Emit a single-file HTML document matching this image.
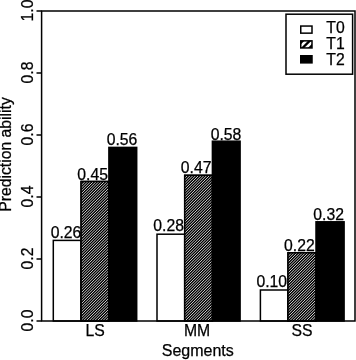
<!DOCTYPE html>
<html>
<head>
<meta charset="utf-8">
<title>Prediction ability by segment</title>
<style>
  html, body { margin: 0; padding: 0; background: #ffffff; }
  body { width: 356px; height: 360px; overflow: hidden; font-family: "Liberation Sans", sans-serif; }
  svg { display: block; will-change: transform; }
  text { font-family: "Liberation Sans", sans-serif; font-size: 15.75px; fill: #000; stroke: #000; stroke-width: 0.25px; }
</style>
</head>
<body>
<svg width="356" height="360" viewBox="0 0 356 360">
  <defs>
    <pattern id="hatch" patternUnits="userSpaceOnUse" width="2" height="2" patternTransform="rotate(-45)">
      <rect x="0" y="0" width="2" height="2" fill="#fff"/>
      <rect x="0" y="0" width="2" height="1.35" fill="#000"/>
    </pattern>
    <clipPath id="sw"><rect x="300.75" y="40.85" width="11.25" height="7.1"/></clipPath>
    <clipPath id="cb0"><rect x="81.1" y="181.5" width="27.8" height="139.5"/></clipPath>
    <clipPath id="cb1"><rect x="184.7" y="175.3" width="27.7" height="145.7"/></clipPath>
    <clipPath id="cb2"><rect x="288.0" y="252.8" width="28.0" height="68.2"/></clipPath>
  </defs>
  <rect x="0" y="0" width="356" height="360" fill="#fff"/>

  <!-- bars: LS -->
  <g stroke="#000" stroke-width="1.5">
    <rect x="53.3" y="240.4" width="27.8" height="80.6" fill="#fff"/>
    <rect x="81.1" y="181.5" width="27.8" height="139.5" fill="#000"/>
    <path clip-path="url(#cb0)" d="M80.10 181.15L109.90 151.35M80.10 183.90L109.90 154.10M80.10 186.65L109.90 156.85M80.10 189.40L109.90 159.60M80.10 192.15L109.90 162.35M80.10 194.90L109.90 165.10M80.10 197.65L109.90 167.85M80.10 200.40L109.90 170.60M80.10 203.15L109.90 173.35M80.10 205.90L109.90 176.10M80.10 208.65L109.90 178.85M80.10 211.40L109.90 181.60M80.10 214.15L109.90 184.35M80.10 216.90L109.90 187.10M80.10 219.65L109.90 189.85M80.10 222.40L109.90 192.60M80.10 225.15L109.90 195.35M80.10 227.90L109.90 198.10M80.10 230.65L109.90 200.85M80.10 233.40L109.90 203.60M80.10 236.15L109.90 206.35M80.10 238.90L109.90 209.10M80.10 241.65L109.90 211.85M80.10 244.40L109.90 214.60M80.10 247.15L109.90 217.35M80.10 249.90L109.90 220.10M80.10 252.65L109.90 222.85M80.10 255.40L109.90 225.60M80.10 258.15L109.90 228.35M80.10 260.90L109.90 231.10M80.10 263.65L109.90 233.85M80.10 266.40L109.90 236.60M80.10 269.15L109.90 239.35M80.10 271.90L109.90 242.10M80.10 274.65L109.90 244.85M80.10 277.40L109.90 247.60M80.10 280.15L109.90 250.35M80.10 282.90L109.90 253.10M80.10 285.65L109.90 255.85M80.10 288.40L109.90 258.60M80.10 291.15L109.90 261.35M80.10 293.90L109.90 264.10M80.10 296.65L109.90 266.85M80.10 299.40L109.90 269.60M80.10 302.15L109.90 272.35M80.10 304.90L109.90 275.10M80.10 307.65L109.90 277.85M80.10 310.40L109.90 280.60M80.10 313.15L109.90 283.35M80.10 315.90L109.90 286.10M80.10 318.65L109.90 288.85M80.10 321.40L109.90 291.60M80.10 324.15L109.90 294.35M80.10 326.90L109.90 297.10M80.10 329.65L109.90 299.85M80.10 332.40L109.90 302.60M80.10 335.15L109.90 305.35M80.10 337.90L109.90 308.10M80.10 340.65L109.90 310.85M80.10 343.40L109.90 313.60M80.10 346.15L109.90 316.35M80.10 348.90L109.90 319.10M80.10 351.65L109.90 321.85" fill="none" stroke="#fff" stroke-width="0.8"/>
    <rect x="81.1" y="181.5" width="27.8" height="139.5" fill="none"/>
    <rect x="108.9" y="147.4" width="27.8" height="173.6" fill="#000"/>
    <!-- MM -->
    <rect x="157" y="234.2" width="27.7" height="86.8" fill="#fff"/>
    <rect x="184.7" y="175.3" width="27.7" height="145.7" fill="#000"/>
    <path clip-path="url(#cb1)" d="M183.70 173.80L213.40 144.10M183.70 176.55L213.40 146.85M183.70 179.30L213.40 149.60M183.70 182.05L213.40 152.35M183.70 184.80L213.40 155.10M183.70 187.55L213.40 157.85M183.70 190.30L213.40 160.60M183.70 193.05L213.40 163.35M183.70 195.80L213.40 166.10M183.70 198.55L213.40 168.85M183.70 201.30L213.40 171.60M183.70 204.05L213.40 174.35M183.70 206.80L213.40 177.10M183.70 209.55L213.40 179.85M183.70 212.30L213.40 182.60M183.70 215.05L213.40 185.35M183.70 217.80L213.40 188.10M183.70 220.55L213.40 190.85M183.70 223.30L213.40 193.60M183.70 226.05L213.40 196.35M183.70 228.80L213.40 199.10M183.70 231.55L213.40 201.85M183.70 234.30L213.40 204.60M183.70 237.05L213.40 207.35M183.70 239.80L213.40 210.10M183.70 242.55L213.40 212.85M183.70 245.30L213.40 215.60M183.70 248.05L213.40 218.35M183.70 250.80L213.40 221.10M183.70 253.55L213.40 223.85M183.70 256.30L213.40 226.60M183.70 259.05L213.40 229.35M183.70 261.80L213.40 232.10M183.70 264.55L213.40 234.85M183.70 267.30L213.40 237.60M183.70 270.05L213.40 240.35M183.70 272.80L213.40 243.10M183.70 275.55L213.40 245.85M183.70 278.30L213.40 248.60M183.70 281.05L213.40 251.35M183.70 283.80L213.40 254.10M183.70 286.55L213.40 256.85M183.70 289.30L213.40 259.60M183.70 292.05L213.40 262.35M183.70 294.80L213.40 265.10M183.70 297.55L213.40 267.85M183.70 300.30L213.40 270.60M183.70 303.05L213.40 273.35M183.70 305.80L213.40 276.10M183.70 308.55L213.40 278.85M183.70 311.30L213.40 281.60M183.70 314.05L213.40 284.35M183.70 316.80L213.40 287.10M183.70 319.55L213.40 289.85M183.70 322.30L213.40 292.60M183.70 325.05L213.40 295.35M183.70 327.80L213.40 298.10M183.70 330.55L213.40 300.85M183.70 333.30L213.40 303.60M183.70 336.05L213.40 306.35M183.70 338.80L213.40 309.10M183.70 341.55L213.40 311.85M183.70 344.30L213.40 314.60M183.70 347.05L213.40 317.35M183.70 349.80L213.40 320.10" fill="none" stroke="#fff" stroke-width="0.8"/>
    <rect x="184.7" y="175.3" width="27.7" height="145.7" fill="none"/>
    <rect x="212.4" y="141.2" width="27.7" height="179.8" fill="#000"/>
    <!-- SS -->
    <rect x="260.4" y="290" width="27.6" height="31" fill="#fff"/>
    <rect x="288" y="252.8" width="28" height="68.2" fill="#000"/>
    <path clip-path="url(#cb2)" d="M287.00 252.00L317.00 222.00M287.00 254.75L317.00 224.75M287.00 257.50L317.00 227.50M287.00 260.25L317.00 230.25M287.00 263.00L317.00 233.00M287.00 265.75L317.00 235.75M287.00 268.50L317.00 238.50M287.00 271.25L317.00 241.25M287.00 274.00L317.00 244.00M287.00 276.75L317.00 246.75M287.00 279.50L317.00 249.50M287.00 282.25L317.00 252.25M287.00 285.00L317.00 255.00M287.00 287.75L317.00 257.75M287.00 290.50L317.00 260.50M287.00 293.25L317.00 263.25M287.00 296.00L317.00 266.00M287.00 298.75L317.00 268.75M287.00 301.50L317.00 271.50M287.00 304.25L317.00 274.25M287.00 307.00L317.00 277.00M287.00 309.75L317.00 279.75M287.00 312.50L317.00 282.50M287.00 315.25L317.00 285.25M287.00 318.00L317.00 288.00M287.00 320.75L317.00 290.75M287.00 323.50L317.00 293.50M287.00 326.25L317.00 296.25M287.00 329.00L317.00 299.00M287.00 331.75L317.00 301.75M287.00 334.50L317.00 304.50M287.00 337.25L317.00 307.25M287.00 340.00L317.00 310.00M287.00 342.75L317.00 312.75M287.00 345.50L317.00 315.50M287.00 348.25L317.00 318.25M287.00 351.00L317.00 321.00" fill="none" stroke="#fff" stroke-width="0.8"/>
    <rect x="288" y="252.8" width="28" height="68.2" fill="none"/>
    <rect x="316" y="221.8" width="28.1" height="99.2" fill="#000"/>
  </g>

  <!-- frame -->
  <rect x="41.6" y="11" width="313.4" height="310" fill="none" stroke="#000" stroke-width="1.5"/>

  <!-- y ticks -->
  <g stroke="#000" stroke-width="1.5">
    <line x1="36.5" y1="11" x2="41.6" y2="11"/>
    <line x1="36.5" y1="73" x2="41.6" y2="73"/>
    <line x1="36.5" y1="135" x2="41.6" y2="135"/>
    <line x1="36.5" y1="197" x2="41.6" y2="197"/>
    <line x1="36.5" y1="259" x2="41.6" y2="259"/>
    <line x1="36.5" y1="321" x2="41.6" y2="321"/>
  </g>

  <!-- y tick labels -->
  <g text-anchor="middle">
    <text transform="translate(32.5 10.5) rotate(-90)">1.0</text>
    <text transform="translate(32.5 72.5) rotate(-90)">0.8</text>
    <text transform="translate(32.5 134.5) rotate(-90)">0.6</text>
    <text transform="translate(32.5 196.5) rotate(-90)">0.4</text>
    <text transform="translate(32.5 258.5) rotate(-90)">0.2</text>
    <text transform="translate(32.5 320.5) rotate(-90)">0.0</text>
    <text transform="translate(11.3 154.5) rotate(-90)">Prediction ability</text>
  </g>

  <!-- x labels -->
  <g text-anchor="middle">
    <text x="95.1" y="336">LS</text>
    <text x="197.1" y="336">MM</text>
    <text x="302" y="336">SS</text>
    <text x="197.8" y="355.5" style="font-size:16px">Segments</text>
  </g>

  <!-- value labels -->
  <g text-anchor="middle">
    <text x="66" y="238">0.26</text>
    <text x="92.6" y="179.6">0.45</text>
    <text x="122" y="145">0.56</text>
    <text x="168.6" y="231.2">0.28</text>
    <text x="196.2" y="173.4">0.47</text>
    <text x="226" y="139.5">0.58</text>
    <text x="271.8" y="287.2">0.10</text>
    <text x="299.4" y="250.5">0.22</text>
    <text x="328.7" y="220">0.32</text>
  </g>

  <!-- legend -->
  <rect x="286" y="14.2" width="66.6" height="60" fill="#fff" stroke="#000" stroke-width="1.5"/>
  <g stroke="#000" stroke-width="1.5">
    <rect x="300.75" y="26.05" width="11.25" height="7.1" fill="#fff"/>
    <rect x="300.75" y="40.85" width="11.25" height="7.1" fill="#fff"/>
    <rect x="300.75" y="55.75" width="11.25" height="7.1" fill="#000"/>
    <g clip-path="url(#sw)" stroke-width="2.3">
      <line x1="296" y1="47.5" x2="306" y2="37.5"/>
      <line x1="299" y1="51.5" x2="313" y2="37.5"/>
      <line x1="306" y1="51.5" x2="316" y2="41.5"/>
    </g>
  </g>
  <g>
    <text x="326.3" y="33.2">T0</text>
    <text x="326.3" y="49.2">T1</text>
    <text x="326.3" y="65.2">T2</text>
  </g>
</svg>
</body>
</html>
